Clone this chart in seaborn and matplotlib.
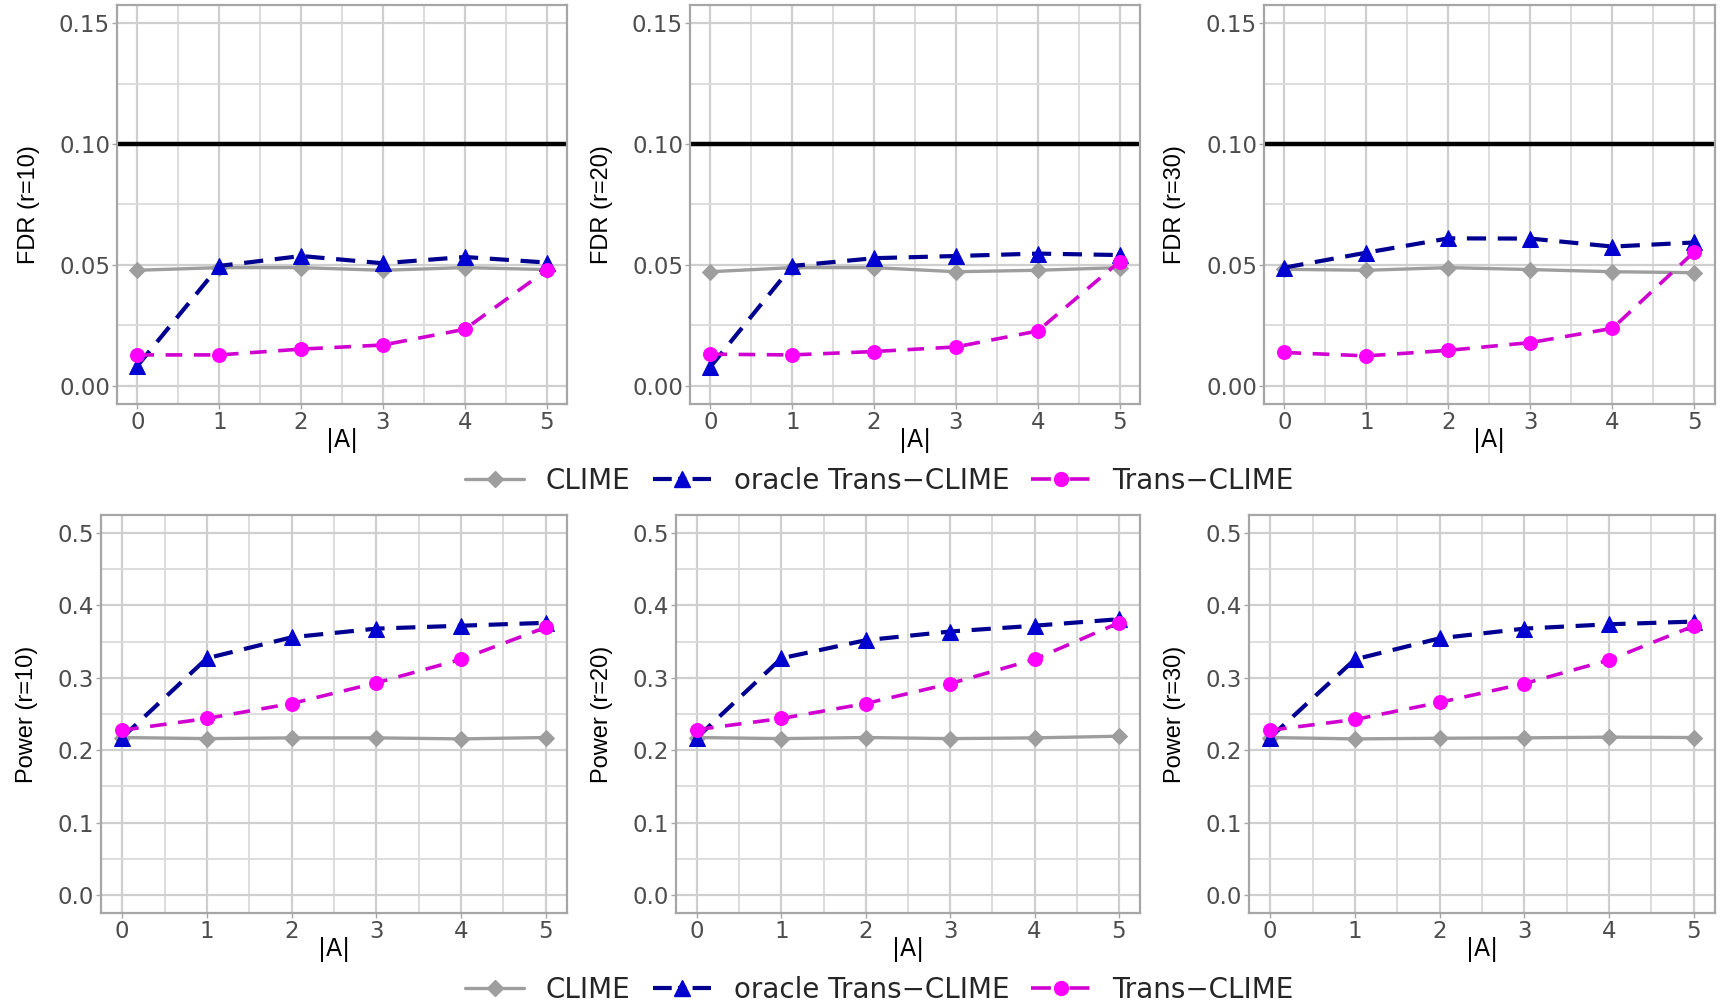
import pandas as pd
import matplotlib
matplotlib.use("Agg")
import matplotlib.pyplot as plt
from matplotlib.ticker import FixedLocator, FormatStrFormatter
from matplotlib.lines import Line2D
import seaborn as sns

# x axis: number of informative auxiliary samples |A|
sizes_A = [0, 1, 2, 3, 4, 5]
r_values = [10, 20, 30]
methods = ["CLIME", "oracle Trans\u2212CLIME", "Trans\u2212CLIME"]

# FDR values
fdr_clime_r10 = [0.0478, 0.0489, 0.0489, 0.0478, 0.0489, 0.0481]
fdr_oracle_r10 = [0.0083, 0.0496, 0.0537, 0.0507, 0.0533, 0.0510]
fdr_trans_r10 = [0.0128, 0.0128, 0.0152, 0.0169, 0.0234, 0.0478]

fdr_clime_r20 = [0.0472, 0.0489, 0.0489, 0.0472, 0.0478, 0.0489]
fdr_oracle_r20 = [0.0079, 0.0496, 0.0528, 0.0537, 0.0547, 0.0541]
fdr_trans_r20 = [0.0131, 0.0128, 0.0142, 0.0161, 0.0227, 0.0514]

fdr_clime_r30 = [0.0482, 0.0478, 0.0489, 0.0481, 0.0472, 0.0468]
fdr_oracle_r30 = [0.0489, 0.0551, 0.0610, 0.0609, 0.0576, 0.0593]
fdr_trans_r30 = [0.0138, 0.0124, 0.0147, 0.0179, 0.0238, 0.0555]

# Power values
pow_clime_r10 = [0.2175, 0.2160, 0.2170, 0.2170, 0.2156, 0.2175]
pow_oracle_r10 = [0.2175, 0.3270, 0.3560, 0.3680, 0.3720, 0.3760]
pow_trans_r10 = [0.2276, 0.2438, 0.2645, 0.2930, 0.3255, 0.3698]

pow_clime_r20 = [0.2175, 0.2160, 0.2175, 0.2160, 0.2170, 0.2193]
pow_oracle_r20 = [0.2175, 0.3270, 0.3520, 0.3640, 0.3720, 0.3810]
pow_trans_r20 = [0.2285, 0.2438, 0.2645, 0.2920, 0.3255, 0.3760]

pow_clime_r30 = [0.2175, 0.2156, 0.2165, 0.2170, 0.2180, 0.2175]
pow_oracle_r30 = [0.2175, 0.3255, 0.3546, 0.3680, 0.3740, 0.3777]
pow_trans_r30 = [0.2276, 0.2424, 0.2660, 0.2920, 0.3246, 0.3717]

fdr_ticks = [0.0, 0.05, 0.10, 0.15]
pow_ticks = [0.0, 0.1, 0.2, 0.3, 0.4, 0.5]

series = {
    ("FDR", 10): [fdr_clime_r10, fdr_oracle_r10, fdr_trans_r10],
    ("FDR", 20): [fdr_clime_r20, fdr_oracle_r20, fdr_trans_r20],
    ("FDR", 30): [fdr_clime_r30, fdr_oracle_r30, fdr_trans_r30],
    ("Power", 10): [pow_clime_r10, pow_oracle_r10, pow_trans_r10],
    ("Power", 20): [pow_clime_r20, pow_oracle_r20, pow_trans_r20],
    ("Power", 30): [pow_clime_r30, pow_oracle_r30, pow_trans_r30],
}

rows = []
for (metric, r), vals in series.items():
    for m, v in zip(methods, vals):
        for a, y in zip(sizes_A, v):
            rows.append({"metric": metric, "r": r, "method": m, "A": a, "value": y})
df = pd.DataFrame(rows)

# line / marker styles per method
styles = {
    methods[0]: dict(color="#9E9E9E", lw=2.4, marker="D", markersize=8,
                     markerfacecolor="#9E9E9E", markeredgecolor="#9E9E9E", linestyle="-"),
    methods[1]: dict(color="#000090", lw=3.0, marker="^", markersize=12,
                     markerfacecolor="#0000D0", markeredgecolor="#0000D0", dashes=(4.6, 2.8)),
    methods[2]: dict(color="#D000D0", lw=2.6, marker="o", markersize=10,
                     markerfacecolor="#FF00FF", markeredgecolor="#FF00FF", dashes=(4.6, 3.2)),
}

# symmetric dash pattern for the short legend keys ("- marker -")
legend_ls = {
    methods[0]: "-",
    methods[1]: (0, (4.5, 1.5, 2.0, 1.5, 4.5, 10)),
    methods[2]: (0, (5.5, 1.8, 1.6, 1.8, 5.5, 10)),
}

sns.set_theme(style="white")
plt.rcParams["font.family"] = ["DejaVu Sans"]

W, H = 1731, 1001
fig = plt.figure(figsize=(W / 100, H / 100), dpi=100)

top_boxes = [(117, 567), (690, 1140), (1264, 1715)]
bot_boxes = [(101, 567), (676, 1140), (1249, 1715)]


def style_axes(ax, ylim, yticks, yminor, fmt, ylab_x):
    ax.set_xlim(-0.25, 5.25)
    ax.set_ylim(*ylim)
    ax.xaxis.set_major_locator(FixedLocator(sizes_A))
    ax.xaxis.set_minor_locator(FixedLocator([0.5, 1.5, 2.5, 3.5, 4.5]))
    ax.yaxis.set_major_locator(FixedLocator(yticks))
    ax.yaxis.set_minor_locator(FixedLocator(yminor))
    ax.yaxis.set_major_formatter(FormatStrFormatter(fmt))
    ax.grid(True, which="major", color="#CFCFCF", lw=1.6)
    ax.grid(True, which="minor", color="#DADADA", lw=1.3)
    ax.set_axisbelow(True)
    for sp in ax.spines.values():
        sp.set_color("#A6A6A6")
        sp.set_linewidth(1.6)
    ax.tick_params(axis="both", which="major", length=3.5, width=1.0, color="#A6A6A6",
                   labelsize=16.5, labelcolor="#4D4D4D", pad=1.5, left=True, bottom=True)
    ax.tick_params(axis="both", which="minor", length=0)
    ax.set_xlabel("|A|", fontsize=17, color="black")
    ax.xaxis.set_label_coords(0.5, -0.06)
    ax.yaxis.set_label_coords(ylab_x, 0.5)


for row, metric in enumerate(["FDR", "Power"]):
    boxes = top_boxes if row == 0 else bot_boxes
    top_px, bot_px = (5, 404) if row == 0 else (515, 913)
    for col, r in enumerate(r_values):
        x0, x1 = boxes[col]
        ax = fig.add_axes([x0 / W, 1 - bot_px / H, (x1 - x0) / W, (bot_px - top_px) / H])
        sub = df[(df["metric"] == metric) & (df["r"] == r)]
        if metric == "FDR":
            ax.axhline(0.10, color="black", lw=3.2, zorder=1.5)
        for m in methods:
            d = sub[sub["method"] == m]
            sns.lineplot(data=d, x="A", y="value", ax=ax, **styles[m])
        if metric == "FDR":
            style_axes(ax, (-0.0075, 0.1575), fdr_ticks, [0.025, 0.075, 0.125], "%.2f", -0.172)
        else:
            style_axes(ax, (-0.025, 0.525), pow_ticks, [0.05, 0.15, 0.25, 0.35, 0.45], "%.1f",
                       -0.135)
        ax.set_ylabel(f"{metric} (r={r})", fontsize=17, color="black",
                      family=["Liberation Sans Narrow", "Liberation Sans"])

handles = []
for m in methods:
    st = {k: v for k, v in styles[m].items() if k not in ("dashes", "linestyle")}
    handles.append(Line2D([], [], linestyle=legend_ls[m], **st))

for yc in (0.5195, 0.011):
    fig.legend(handles, methods, loc="center", bbox_to_anchor=(0.508, yc), ncol=3,
               frameon=False, fontsize=20, handlelength=2.1, handletextpad=0.8,
               columnspacing=0.8, numpoints=1)

fig.savefig("out.png", dpi=100, facecolor="white")
